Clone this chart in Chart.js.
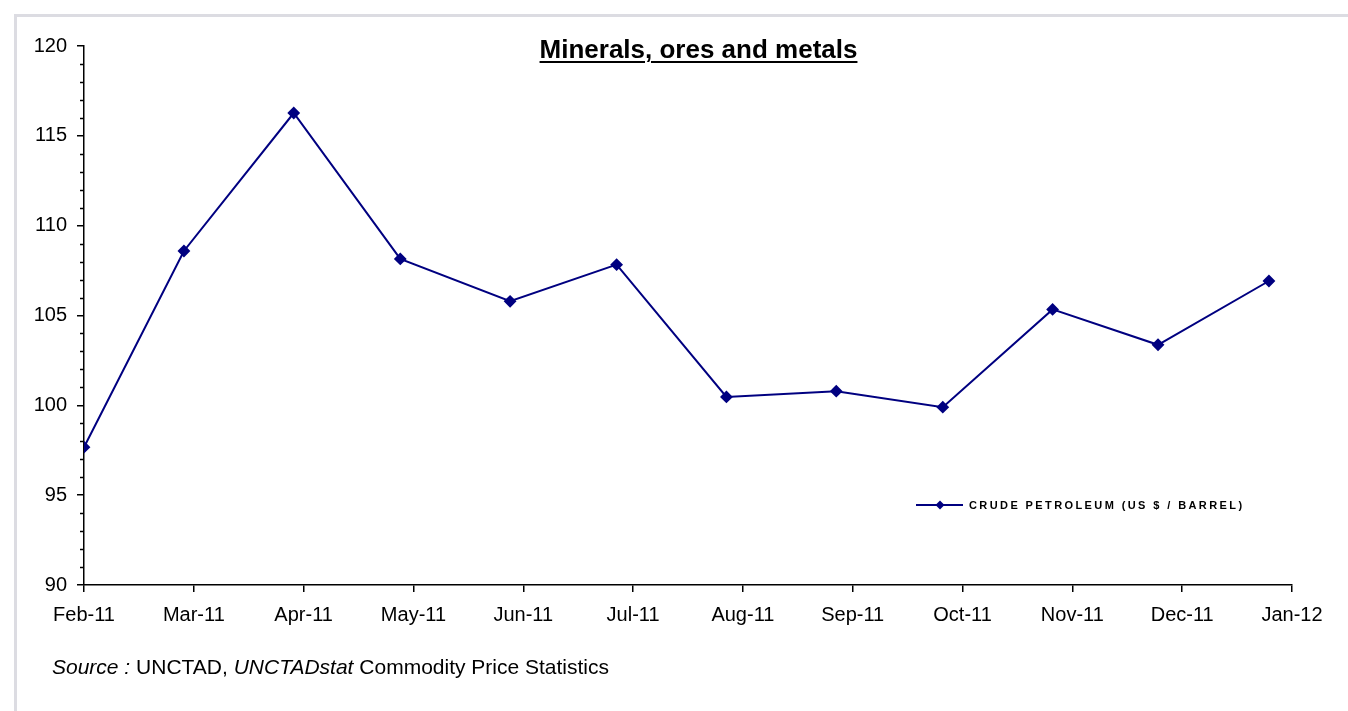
<!DOCTYPE html>
<html>
<head>
<meta charset="utf-8">
<title>Minerals, ores and metals</title>
<script src="https://cdn.jsdelivr.net/npm/chart.js@4/dist/chart.umd.min.js"></script>
<style>
  body { margin: 0; background: #fff; }
  #wrap { position: relative; width: 1348px; height: 711px; }
  #title {
    position: absolute; left: 0; width: 1397px; top: 34px; text-align: center;
    font: bold 26px "Liberation Sans", Arial, sans-serif; text-decoration: underline;
    text-decoration-thickness: 2px; text-underline-offset: 3px; color: #000;
  }
  #source {
    position: absolute; left: 52px; top: 655px;
    font: 21px "Liberation Sans", Arial, sans-serif; color: #000;
  }
</style>
</head>
<body>
<div id="wrap">
  <canvas id="canvas"></canvas>
  <div id="title">Minerals, ores and metals</div>
  <div id="source"><i>Source :</i> UNCTAD, <i>UNCTADstat</i> Commodity Price Statistics</div>
</div>
<script>
/* global Chart */

// Tick labels of the month axis
const monthLabels = ["Feb-11", "Mar-11", "Apr-11", "May-11", "Jun-11", "Jul-11",
  "Aug-11", "Sep-11", "Oct-11", "Nov-11", "Dec-11", "Jan-12"];

// Where each observation sits on the month axis (months after Feb-11)
const obsMonth = [0.0, 0.91, 1.91, 2.88, 3.88, 4.85, 5.85, 6.85, 7.82, 8.82, 9.78, 10.79];

// Crude petroleum price, US $ / barrel
const crudePrice = [97.67, 108.59, 116.27, 108.15, 105.79, 107.83,
  100.47, 100.79, 99.90, 105.34, 103.37, 106.92];

const seriesName = "CRUDE PETROLEUM (US $ / BARREL)";
const lineColor = "#000080";

// Grey frame at top and left of the picture
const framePlugin = {
  id: "frame",
  beforeDraw(chart) {
    const ctx = chart.ctx;
    ctx.save();
    ctx.fillStyle = "#dcdce2";
    ctx.fillRect(14, 14, chart.width - 14, 3);
    ctx.fillRect(14, 14, 3, chart.height - 14);
    ctx.restore();
  }
};

// Small minor ticks on the value axis
const minorTicksPlugin = {
  id: "minorTicks",
  afterDraw(chart) {
    const y = chart.scales.y;
    const ctx = chart.ctx;
    ctx.save();
    ctx.strokeStyle = "#000";
    ctx.lineWidth = 1.5;
    y.ticks.forEach((t) => {
      if (t.value % 5 !== 0) {
        const py = Math.round(y.getPixelForValue(t.value)) + 0.5;
        ctx.beginPath();
        ctx.moveTo(y.right - 4, py);
        ctx.lineTo(y.right, py);
        ctx.stroke();
      }
    });
    ctx.restore();
  }
};

// Legend drawn inside the plot, as in the original
const legendPlugin = {
  id: "insideLegend",
  afterDraw(chart) {
    const ctx = chart.ctx;
    const ly = 505;
    ctx.save();
    ctx.strokeStyle = lineColor;
    ctx.lineWidth = 2;
    ctx.beginPath();
    ctx.moveTo(916, ly);
    ctx.lineTo(963, ly);
    ctx.stroke();
    ctx.fillStyle = lineColor;
    ctx.beginPath();
    ctx.moveTo(940, ly - 4.5);
    ctx.lineTo(944.5, ly);
    ctx.lineTo(940, ly + 4.5);
    ctx.lineTo(935.5, ly);
    ctx.closePath();
    ctx.fill();
    ctx.fillStyle = "#000";
    ctx.font = "bold 11px 'Liberation Sans', Arial, sans-serif";
    ctx.letterSpacing = "2.4px";
    ctx.textBaseline = "middle";
    ctx.fillText(seriesName, 969, ly + 1);
    ctx.restore();
  }
};

function buildConfig() {
  const points = crudePrice.map((v, i) => ({ x: obsMonth[i], y: v }));
  const tickFont = { family: "'Liberation Sans', Arial, sans-serif", size: 20 };

  return {
    type: "line",
    data: {
      datasets: [
        {
          label: seriesName,
          data: points,
          borderColor: lineColor,
          backgroundColor: lineColor,
          borderWidth: 2,
          pointStyle: "rectRot",
          pointRadius: 5,
          pointHoverRadius: 5,
          fill: false,
          tension: 0
        }
      ]
    },
    options: {
      responsive: true,
      maintainAspectRatio: false,
      animation: false,
      layout: { padding: { top: 46, right: 56, left: 0, bottom: 0 } },
      plugins: {
        legend: { display: false },
        title: { display: false },
        tooltip: { enabled: false }
      },
      scales: {
        x: {
          type: "linear",
          min: 0,
          max: 11,
          afterFit: (scale) => { scale.height = 126; },
          border: { color: "#000", width: 1.5 },
          grid: { drawOnChartArea: false, tickLength: 7, color: "#000", lineWidth: 1.5 },
          ticks: {
            stepSize: 1,
            autoSkip: false,
            maxRotation: 0,
            padding: 11,
            color: "#000",
            font: tickFont,
            callback: (v) => monthLabels[v]
          }
        },
        y: {
          min: 90,
          max: 120,
          afterFit: (scale) => { scale.width = 84; },
          border: { color: "#000", width: 1.5 },
          grid: {
            drawOnChartArea: false,
            tickLength: 7,
            lineWidth: 1.5,
            tickColor: (ctx) => (ctx.tick && ctx.tick.value % 5 === 0 ? "#000" : "rgba(0,0,0,0)")
          },
          ticks: {
            stepSize: 1,
            maxTicksLimit: 40,
            autoSkip: false,
            padding: 10,
            color: "#000",
            font: tickFont,
            callback: (v) => (v % 5 === 0 ? v : "")
          }
        }
      }
    },
    plugins: [framePlugin, minorTicksPlugin, legendPlugin]
  };
}

function publishChart(config) {
  const ctx = document.getElementById("canvas").getContext("2d");
  window.myLine = new Chart(ctx, config);
}

publishChart(buildConfig());
</script>
</body>
</html>
